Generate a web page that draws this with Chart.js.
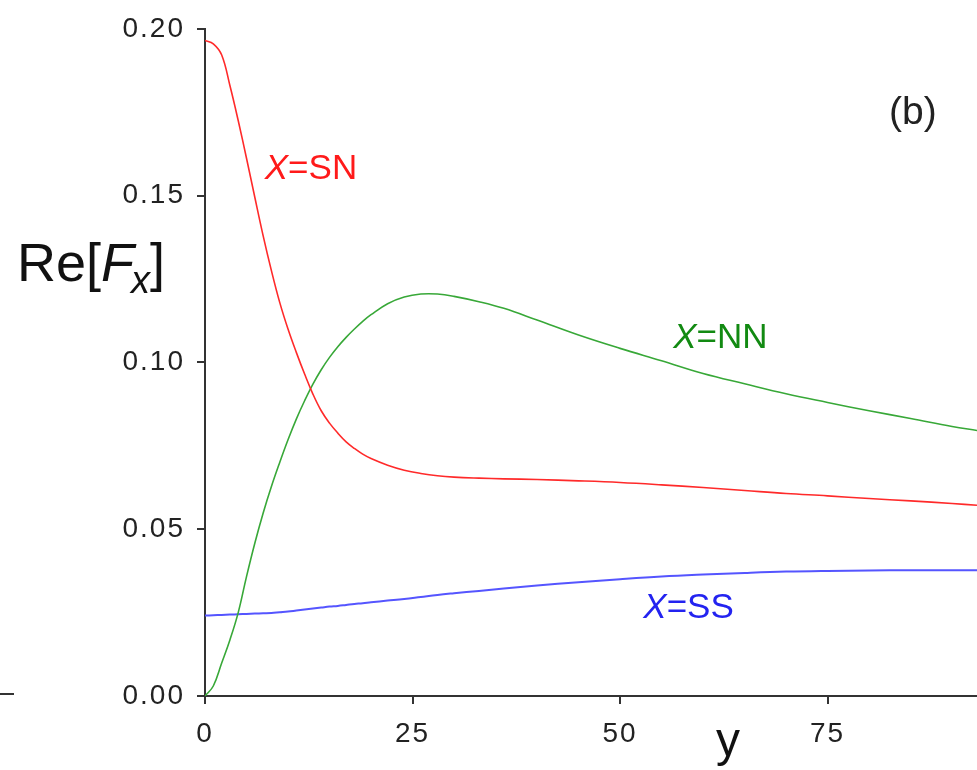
<!DOCTYPE html>
<html>
<head>
<meta charset="utf-8">
<script src="https://cdn.jsdelivr.net/npm/chart.js@4/dist/chart.umd.min.js"></script>
<style>
  html, body { margin: 0; padding: 0; background: #ffffff; }
  #wrap { width: 977px; height: 770px; position: relative; }
</style>
</head>
<body>
<div id="wrap"><canvas id="c" width="977" height="770"></canvas></div>
<script>
// ---- data ----
const yPos = [0,1,2,3,4,5,6,7,8,9,10,11,12,13,14,15,16,17,18,19,20,22,24,26,28,30,33,36,40,45,50,55,60,65,70,75,80,85,90,93];
const reSN = [0.1965,0.1955,0.1922,0.1830,0.1725,0.1612,0.1495,0.1380,0.1275,0.1180,0.1100,0.1030,0.0965,0.0905,0.0855,0.0818,0.0788,0.0762,0.0742,0.0725,0.0712,0.0692,0.0677,0.0667,0.0660,0.0656,0.0653,0.0651,0.0649,0.0645,0.0640,0.0633,0.0625,0.0616,0.0607,0.0600,0.0592,0.0585,0.0577,0.0572];
const reNN = [0.0000,0.0030,0.0098,0.0168,0.0250,0.0358,0.0458,0.0548,0.0628,0.0700,0.0768,0.0830,0.0885,0.0935,0.0978,0.1015,0.1047,0.1075,0.1100,0.1123,0.1143,0.1176,0.1196,0.1205,0.1205,0.1198,0.1182,0.1162,0.1127,0.1082,0.1042,0.1005,0.0967,0.0936,0.0906,0.0880,0.0855,0.0832,0.0808,0.0796];
const reSS = [0.0241,0.0242,0.0243,0.0244,0.0245,0.0246,0.0247,0.0248,0.0249,0.0251,0.0253,0.0256,0.0259,0.0262,0.0265,0.0268,0.0270,0.0273,0.0276,0.0278,0.0281,0.0286,0.0291,0.0297,0.0303,0.0308,0.0315,0.0322,0.0331,0.0341,0.0350,0.0358,0.0364,0.0369,0.0373,0.0375,0.0376,0.0377,0.0377,0.0377];
const xTicks = [0, 25, 50, 75];
const yTicks = [0.00, 0.05, 0.10, 0.15, 0.20];
const seriesNames = ['SN', 'NN', 'SS'];

const FONT = '"Liberation Sans", Arial, Helvetica, sans-serif';
const toPts = arr => arr.map((v, i) => ({ x: yPos[i], y: v }));

function setSpacing(chart) { try { chart.ctx.letterSpacing = '2px'; } catch (e) {} }
const spacingPlugin = {
  id: 'spacing',
  beforeUpdate: setSpacing,
  beforeLayout: setSpacing,
  beforeDraw: setSpacing
};

function drawLabel(ctx, x, y, parts, color) {
  let cx = x;
  ctx.fillStyle = color;
  ctx.textBaseline = 'alphabetic';
  ctx.textAlign = 'left';
  for (const p of parts) {
    ctx.font = p.font;
    const dy = p.dy || 0;
    ctx.fillText(p.t, cx, y + dy);
    cx += ctx.measureText(p.t).width + (p.gap || 0);
  }
}

const annotPlugin = {
  id: 'annot',
  afterDraw(chart) {
    const ctx = chart.ctx;
    const xs = chart.scales.x, ys = chart.scales.y;
    ctx.save();
    try { ctx.letterSpacing = '0px'; } catch (e) {}
    const it = 'italic 35px ' + FONT, nm = '35px ' + FONT;
    drawLabel(ctx, xs.getPixelForValue(7.2), ys.getPixelForValue(0.1551),
      [{t: 'X', font: it}, {t: '=' + seriesNames[0], font: nm}], '#ff1a1a');
    drawLabel(ctx, xs.getPixelForValue(56.4), ys.getPixelForValue(0.1042),
      [{t: 'X', font: it}, {t: '=' + seriesNames[1], font: nm}], '#128a12');
    drawLabel(ctx, xs.getPixelForValue(52.8), ys.getPixelForValue(0.0234),
      [{t: 'X', font: it}, {t: '=' + seriesNames[2], font: nm}], '#2323f0');
    // panel tag
    drawLabel(ctx, xs.getPixelForValue(82.4), ys.getPixelForValue(0.1715),
      [{t: '(b)', font: '39px ' + FONT}], '#222222');
    // y-axis title Re[F_x]
    drawLabel(ctx, 17, 281, [
      {t: 'Re[', font: '54px ' + FONT},
      {t: 'F', font: 'italic 54px ' + FONT, gap: -3},
      {t: 'x', font: 'italic 38px ' + FONT, dy: 12},
      {t: ']', font: '54px ' + FONT}
    ], '#111111');
    // x-axis title
    drawLabel(ctx, 716, 756, [{t: 'y', font: '48px ' + FONT}], '#111111');
    // fragment of neighbouring panel at the far left
    ctx.strokeStyle = '#333';
    ctx.lineWidth = 2;
    ctx.beginPath(); ctx.moveTo(0, 694); ctx.lineTo(14, 694); ctx.stroke();
    ctx.restore();
  }
};

new Chart(document.getElementById('c'), {
  type: 'line',
  data: {
    datasets: [
      { label: 'X=SN', data: toPts(reSN), borderColor: '#ff2a2a', borderWidth: 1.6, pointRadius: 0, fill: false, tension: 0.4 },
      { label: 'X=NN', data: toPts(reNN), borderColor: '#38a838', borderWidth: 1.6, pointRadius: 0, fill: false, tension: 0.4 },
      { label: 'X=SS', data: toPts(reSS), borderColor: '#5555ff', borderWidth: 2, pointRadius: 0, fill: false, tension: 0.4 }
    ]
  },
  options: {
    responsive: false,
    devicePixelRatio: 1,
    animation: false,
    layout: { padding: { top: 28, right: 0, left: 0, bottom: 0 } },
    plugins: { legend: { display: false }, tooltip: { enabled: false } },
    scales: {
      x: {
        type: 'linear', min: 0, max: 93,
        afterBuildTicks: s => { s.ticks = xTicks.map(v => ({ value: v })); },
        afterFit: s => { s.height = 74; },
        grid: { drawOnChartArea: false, drawTicks: true, tickLength: 8, color: '#333', lineWidth: 2 },
        border: { display: true, color: '#333', width: 2 },
        ticks: { font: { family: FONT, size: 28 }, color: '#222', padding: 13, maxRotation: 0 }
      },
      y: {
        type: 'linear', min: 0, max: 0.2,
        afterBuildTicks: s => { s.ticks = yTicks.map(v => ({ value: v })); },
        afterFit: s => { s.width = 205; },
        grid: { drawOnChartArea: false, drawTicks: true, tickLength: 8, color: '#333', lineWidth: 2 },
        border: { display: true, color: '#333', width: 2 },
        ticks: { font: { family: FONT, size: 28 }, color: '#222', padding: 12, callback: v => v.toFixed(2) }
      }
    }
  },
  plugins: [spacingPlugin, annotPlugin]
});
</script>
</body>
</html>
